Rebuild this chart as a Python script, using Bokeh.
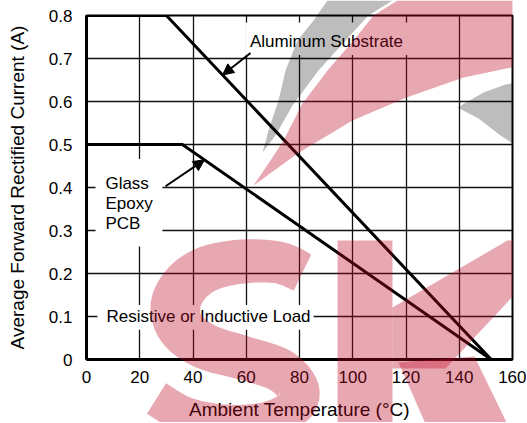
import numpy as np
from bokeh.plotting import figure
from bokeh.layouts import column
from bokeh.models import (Range1d, FixedTicker, BoxAnnotation, Label, Arrow,
                          NormalHead, CustomJSTickFormatter)
from bokeh.embed import file_html
from bokeh.resources import INLINE

# ---------------- data ----------------
temp_aluminum = [0, 30, 152]
current_aluminum = [0.8, 0.8, 0.0]
temp_glass = [0, 36, 152]
current_glass = [0.5, 0.5, 0.0]

x_ticks = [0, 20, 40, 60, 80, 100, 120, 140, 160]
y_ticks = [0.0, 0.1, 0.2, 0.3, 0.4, 0.5, 0.6, 0.7, 0.8]
y_tick_labels = ["0", "0.1", "0.2", "0.3", "0.4", "0.5", "0.6", "0.7", "0.8"]

x_label = "Ambient Temperature (°C)"
y_label = "Average Forward Rectified Current (A)"

FONT = "Liberation Sans"

# ---------------- figure ----------------
W, H = 526, 422
BL, BR, BT, BB = 86, 14, 15, 60
p = figure(width=W, height=H,
           min_border_left=BL, min_border_right=BR,
           min_border_top=BT, min_border_bottom=BB,
           x_range=Range1d(0, 160), y_range=Range1d(0, 0.8),
           output_backend="svg", toolbar_location=None)

p.background_fill_color = "white"
p.border_fill_color = "white"
p.outline_line_color = "black"
p.outline_line_width = 2
p.outline_line_alpha = 1.0

for ax in (p.xaxis[0], p.yaxis[0]):
    ax.axis_line_color = "black"
    ax.axis_line_width = 3
    ax.major_tick_line_color = None
    ax.minor_tick_line_color = None
    ax.major_label_text_font = FONT
    ax.major_label_text_font_size = "17px"
    ax.major_label_text_color = "black"
    ax.axis_label_text_font = FONT
    ax.axis_label_text_font_size = "19px"
    ax.axis_label_text_font_style = "normal"
    ax.axis_label_text_color = "black"

p.xaxis.ticker = FixedTicker(ticks=x_ticks)
p.yaxis.ticker = FixedTicker(ticks=y_ticks)
p.yaxis.formatter = CustomJSTickFormatter(
    args=dict(tvals=y_ticks, tlabels=y_tick_labels),
    code="""
    let i = 0, best = 1e9;
    for (let k = 0; k < tvals.length; k++) {
        const d = Math.abs(tvals[k] - tick);
        if (d < best) { best = d; i = k; }
    }
    return tlabels[i];
    """)
p.xaxis.major_label_standoff = 5
p.yaxis.major_label_standoff = 8
p.xaxis.axis_label = x_label
p.yaxis.axis_label = y_label
p.xaxis.axis_label_standoff = 13
p.yaxis.axis_label_standoff = 18

p.xgrid.grid_line_color = "#111111"
p.ygrid.grid_line_color = "#111111"
p.xgrid.grid_line_width = 1.3
p.ygrid.grid_line_width = 1.3

# ---------------- curves ----------------
p.line(temp_aluminum, current_aluminum, line_width=3, line_color="black", line_join="miter")
p.line(temp_glass, current_glass, line_width=3, line_color="black", line_join="miter")

# ---------------- white label boxes ----------------
for (l, r, b, t) in [(59.7, 121.7, 0.708, 0.784),
                     (3.4, 28.5, 0.263, 0.466),
                     (4.1, 85.3, 0.069, 0.127)]:
    p.add_layout(BoxAnnotation(left=l, right=r, bottom=b, top=t,
                               fill_color="white", fill_alpha=1.0,
                               line_color=None))

# ---------------- arrows (tips on the curves) ----------------
tip_al_x = 51.1
tip_al_y = float(np.interp(tip_al_x, temp_aluminum, current_aluminum))
tip_gl_x = 44.3
tip_gl_y = float(np.interp(tip_gl_x, temp_glass, current_glass))
p.add_layout(Arrow(end=NormalHead(size=11, fill_color="black", line_color="black", line_width=1),
                   x_start=61.6, y_start=0.713, x_end=tip_al_x, y_end=tip_al_y,
                   line_width=2, line_color="black"))
p.add_layout(Arrow(end=NormalHead(size=11, fill_color="black", line_color="black", line_width=1),
                   x_start=29.7, y_start=0.403, x_end=tip_gl_x, y_end=tip_gl_y,
                   line_width=2, line_color="black"))

# ---------------- labels ----------------
def lab(x, y, text):
    p.add_layout(Label(x=x, y=y, text=text, text_font=FONT, text_font_size="17px",
                       text_color="black", text_align="left", text_baseline="middle"))

lab(61.4, 0.740, "Aluminum Substrate")
lab(7.1, 0.409, "Glass")
lab(7.1, 0.363, "Epoxy")
lab(7.1, 0.317, "PCB")
lab(7.5, 0.101, "Resistive or Inductive Load")

# ---------------- watermark overlay (pixel geometry) ----------------
def smooth(pts, n=6):
    pts = np.asarray(pts, float)
    P = np.vstack([pts[0], pts, pts[-1]])
    out = []
    for i in range(1, len(P) - 2):
        p0, p1, p2, p3 = P[i - 1], P[i], P[i + 1], P[i + 2]
        for t in np.linspace(0, 1, n, endpoint=False):
            t2, t3 = t * t, t * t * t
            out.append(0.5 * ((2 * p1) + (-p0 + p2) * t + (2 * p0 - 5 * p1 + 4 * p2 - p3) * t2
                              + (-p0 + 3 * p1 - 3 * p2 + p3) * t3))
    out.append(P[-2])
    return np.array(out)


def stroke(center, widths, n=6):
    c = smooth(center, n)
    w = np.interp(np.linspace(0, len(widths) - 1, len(c)), np.arange(len(widths)), widths)
    d = np.gradient(c, axis=0)
    d /= np.linalg.norm(d, axis=1, keepdims=True)
    nrm = np.stack([-d[:, 1], d[:, 0]], axis=1)
    left = c + nrm * (w[:, None] / 2)
    right = c - nrm * (w[:, None] / 2)
    return np.vstack([left, right[::-1]])


PINK = "#bd0623"
PINK_ALPHA = 0.35
GREY = "#000000"
GREY_ALPHA = 0.26

s_center = [(302, 272), (278, 262), (242, 261), (208, 268), (186, 283), (175, 305),
            (181, 328), (205, 346), (245, 358), (280, 370), (298, 390), (292, 408),
            (264, 420), (222, 422), (184, 414), (156, 398)]
s_width = [40, 42, 44, 46, 48, 50, 48, 46, 44, 44, 42, 38, 36, 36, 36, 36]

shapes = [
    (stroke(s_center, s_width), PINK, PINK_ALPHA),
    ([(337, 240), (392, 240), (392, 430), (337, 430)], PINK, PINK_ALPHA),
    ([(392, 307), (507, 240), (530, 240), (530, 277), (445, 368), (392, 368)], PINK, PINK_ALPHA),
    ([(398, 362), (474, 356), (510, 430), (428, 430)], PINK, PINK_ALPHA),
    ([(253, 185), (270, 160), (283, 140), (302, 103), (327, 70), (353, 40), (373, 15),
      (397, 0), (530, 0), (530, 63), (463, 77), (406, 97), (352, 120), (297, 153)], PINK, PINK_ALPHA),
    ([(327, 0), (313, 20), (297, 40), (285, 70), (278, 100), (268, 130), (262, 152),
      (275, 135), (292, 105), (318, 70), (345, 40), (368, 15), (392, 0)], GREY, GREY_ALPHA),
    ([(457, 107), (483, 92), (505, 84), (530, 80), (530, 155), (500, 135), (478, 118)], GREY, GREY_ALPHA),
]

# the overlay's frame is aligned with the chart's frame horizontally by the column layout,
# so its x range is expressed in page pixels of that frame
wm = figure(width=W, height=H, x_range=Range1d(BL, W - BR), y_range=Range1d(H, 0),
            x_axis_type=None, y_axis_type=None,
            min_border_left=BL, min_border_right=BR, min_border_top=0, min_border_bottom=0,
            output_backend="svg", toolbar_location=None)
wm.grid.visible = False
wm.outline_line_color = None
wm.background_fill_color = None
wm.border_fill_color = None
wm.patches(xs=[[float(v) for v in np.asarray(s)[:, 0]] for s, _, _ in shapes],
           ys=[[float(v) for v in np.asarray(s)[:, 1]] for s, _, _ in shapes],
           fill_color=[c for _, c, _ in shapes],
           fill_alpha=[a for _, _, a in shapes],
           line_color=None)
wm.styles = {"position": "absolute", "left": "0px", "top": "0px", "pointer-events": "none"}

layout = column(p, wm)
open("out.html", "w").write(file_html(layout, INLINE))
